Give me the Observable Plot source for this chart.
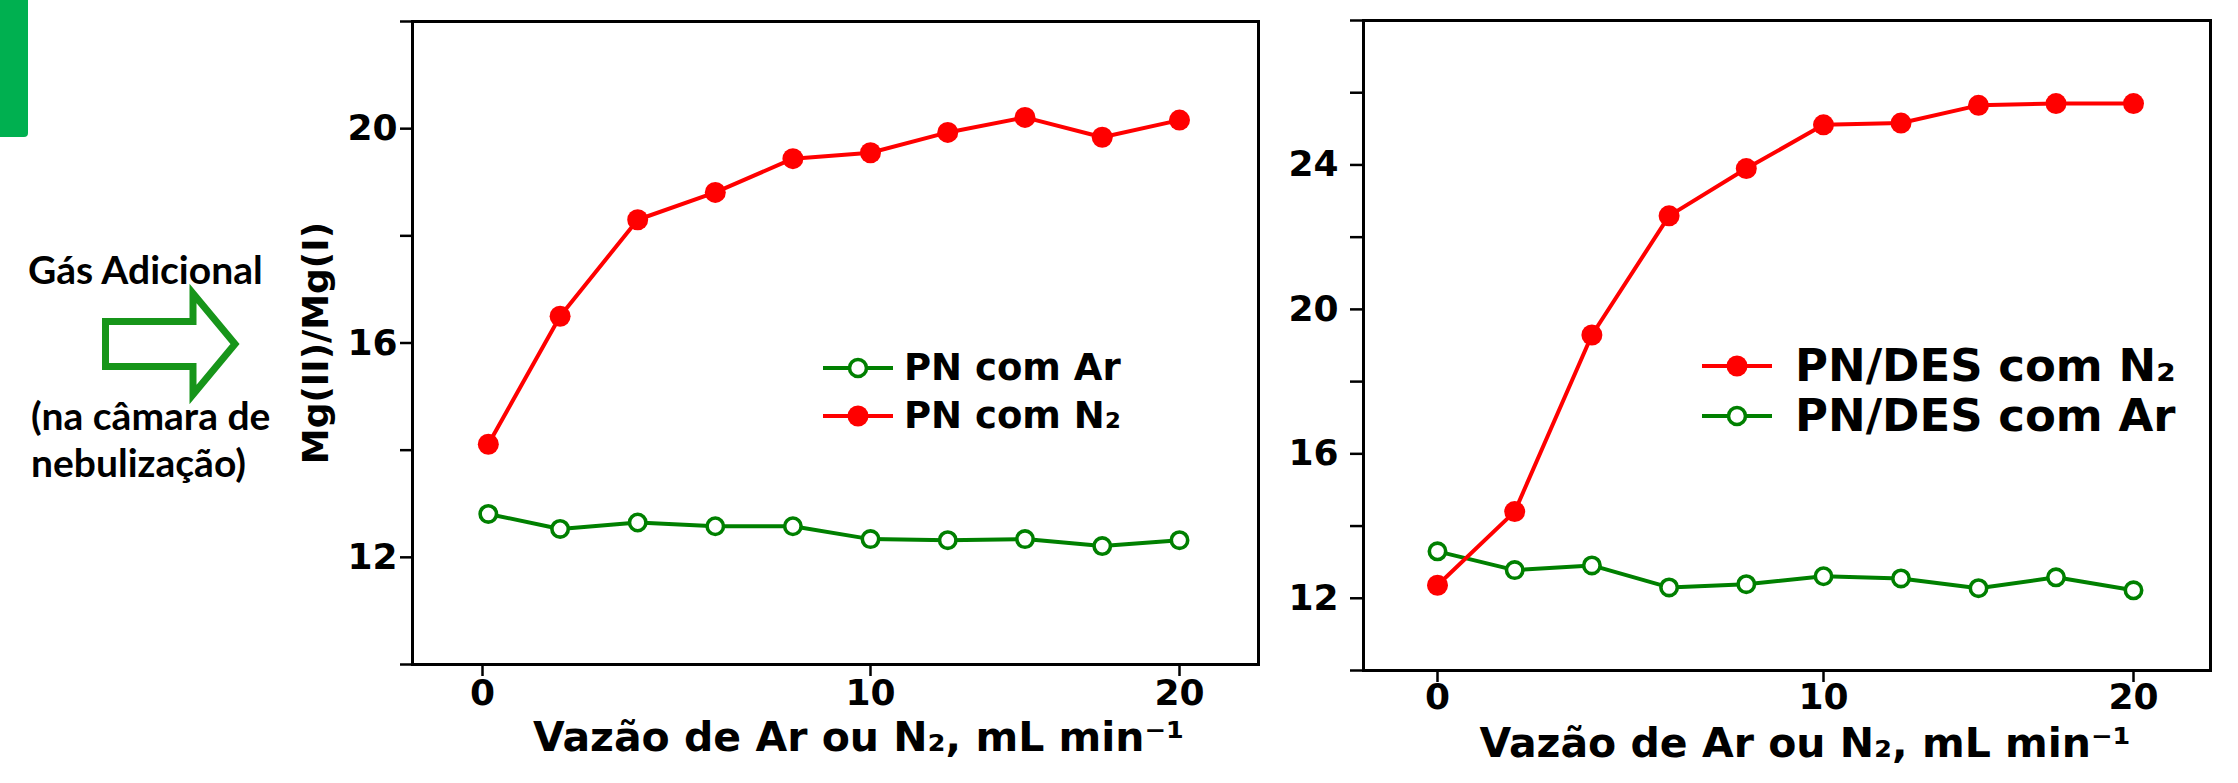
<!DOCTYPE html>
<html><head><meta charset="utf-8">
<script src="https://cdn.jsdelivr.net/npm/d3@7"></script>
<script src="https://cdn.jsdelivr.net/npm/@observablehq/plot@0.6"></script>
<style>
body{margin:0;background:#fff;}
#root{position:relative;width:2238px;height:783px;overflow:hidden;background:#fff;font-family:"DejaVu Sans",sans-serif;font-weight:bold;color:#000;}
.leg{position:absolute;display:flex;align-items:center;white-space:nowrap;}
.leg span{display:block;line-height:1.2;}
</style></head><body><div id="root"></div>
<script>
// ---------- data ----------
const flowLeft  = [0.15, 2, 4, 6, 8, 10, 12.5, 15, 17.5, 20];
const flowRight = [0, 2, 4, 6, 8, 10, 12.5, 15, 17.5, 20];
const pnAr   = [12.81, 12.53, 12.65, 12.58, 12.58, 12.34, 12.32, 12.34, 12.21, 12.32];
const pnN2   = [14.11, 16.50, 18.30, 18.81, 19.44, 19.55, 19.93, 20.21, 19.84, 20.16];
const desN2  = [12.36, 14.40, 19.29, 22.59, 23.90, 25.11, 25.16, 25.65, 25.70, 25.70];
const desAr  = [13.30, 12.78, 12.91, 12.30, 12.39, 12.61, 12.55, 12.28, 12.58, 12.22];
const xTicks = [0, 10, 20];
const leftYTicks = [10, 12, 14, 16, 18, 20, 22];
const leftYLabels = [12, 16, 20];
const rightYTicks = [10, 12, 14, 16, 18, 20, 22, 24, 26, 28];
const rightYLabels = [12, 16, 20, 24];
const xLabel = "Vazão de Ar ou N₂, mL min⁻¹";
const yLabel = "Mg(II)/Mg(I)";
const leftSeries = [
  {name: "PN com Ar", values: pnAr, color: "#008000", filled: false},
  {name: "PN com N₂", values: pnN2, color: "#ff0000", filled: true}
];
const rightSeries = [
  {name: "PN/DES com N₂", values: desN2, color: "#ff0000", filled: true},
  {name: "PN/DES com Ar", values: desAr, color: "#008000", filled: false}
];
const sideNotes = ["Gás Adicional", "(na câmara de", "nebulização)"];

// ---------- layout helpers ----------
const root = document.getElementById("root");
function place(el, left, top) {
  el.style.position = "absolute";
  el.style.left = left + "px";
  el.style.top = top + "px";
  root.appendChild(el);
  return el;
}

function makeChart(cfg) {
  const axisYOpts = {ticks: cfg.yTicks, tickSize: cfg.yTickSize, tickPadding: cfg.yTickPadding,
    tickFormat: d => cfg.yLabels.includes(d) ? String(d) : "", fontSize: 36, strokeWidth: 2.5};
  if (cfg.yLabel) Object.assign(axisYOpts, {label: cfg.yLabel, labelAnchor: "center", labelOffset: cfg.yLabelOffset, labelArrow: "none"});
  else axisYOpts.label = null;
  const marks = [
    Plot.frame({stroke: "#000", strokeWidth: 3}),
    Plot.axisY(axisYOpts),
    Plot.axisX({ticks: xTicks, tickSize: 12, tickPadding: cfg.xTickPadding, tickFormat: d => String(d),
      fontSize: 36, strokeWidth: 2.5, label: null})
  ];
  const order = cfg.series.filter(s => !s.filled).concat(cfg.series.filter(s => s.filled));
  for (const s of order) {
    const rows = s.values.map((v, i) => ({x: cfg.x[i], y: v}));
    marks.push(Plot.line(rows, {x: "x", y: "y", stroke: s.color, strokeWidth: 4}));
    marks.push(Plot.dot(rows, s.filled
      ? {x: "x", y: "y", r: 10.5, fill: s.color, stroke: "none"}
      : {x: "x", y: "y", r: 8.2, fill: "white", stroke: s.color, strokeWidth: 3.6}));
  }
  marks.push(Plot.text([xLabel], {text: d => d, frameAnchor: "bottom", dx: cfg.xLabelDx, dy: cfg.xLabelDy,
    fontSize: 41, fontWeight: "bold", fill: "#000"}));
  return Plot.plot({
    width: cfg.width, height: cfg.height,
    marginTop: cfg.mt, marginBottom: cfg.mb, marginLeft: cfg.ml, marginRight: cfg.mr,
    style: {fontFamily: "DejaVu Sans", fontWeight: "bold", background: "transparent", overflow: "visible", color: "#000"},
    x: {type: "linear", domain: [0, 10, 20], range: cfg.xRange},
    y: {domain: cfg.yDomain},
    marks
  });
}

function makeLegend(series, cfg) {
  series.forEach((s, i) => {
    const div = document.createElement("div");
    div.className = "leg";
    const h = 60;
    const sw = d3.create("svg").attr("width", cfg.swatchW).attr("height", h).style("display", "block");
    sw.append("line").attr("x1", 0).attr("x2", cfg.swatchW).attr("y1", h / 2).attr("y2", h / 2)
      .attr("stroke", s.color).attr("stroke-width", 4);
    if (s.filled) sw.append("circle").attr("cx", cfg.swatchW / 2).attr("cy", h / 2).attr("r", 10.5).attr("fill", s.color);
    else sw.append("circle").attr("cx", cfg.swatchW / 2).attr("cy", h / 2).attr("r", 8.5).attr("fill", "white")
      .attr("stroke", s.color).attr("stroke-width", 3.6);
    div.appendChild(sw.node());
    const t = document.createElement("span");
    t.textContent = s.name;
    t.style.fontSize = cfg.fontSize + "px";
    t.style.marginLeft = cfg.gap + "px";
    div.appendChild(t);
    place(div, cfg.left, cfg.centers[i] - h / 2);
  });
}

// ---------- side note ----------
const bar = document.createElement("div");
bar.style.cssText = "width:28px;height:137px;background:#00b050;border-bottom-right-radius:4px;";
place(bar, 0, 0);

const note = d3.create("svg").attr("width", 300).attr("height", 520)
  .style("font-family", "Lato, 'Open Sans', sans-serif").style("font-weight", "bold");
const baselines = [284, 430, 477];
const starts = [28, 31, 31];
sideNotes.forEach((s, i) => {
  note.append("text").attr("x", starts[i]).attr("y", baselines[i]).attr("font-size", 39).attr("fill", "#000").text(s);
});
note.append("path")
  .attr("d", "M105.5,321.5 L193,321.5 L193,293.5 L235,344 L193,394.5 L193,366.5 L105.5,366.5 Z")
  .attr("fill", "white").attr("stroke", "#17951a").attr("stroke-width", 7).attr("stroke-linejoin", "miter");
place(note.node(), 0, 0);

// ---------- charts ----------
place(makeChart({
  series: leftSeries, x: flowLeft,
  width: 1000, height: 783, mt: 21, mb: 119, ml: 122, mr: 32,
  xRange: [192, 580, 889], yDomain: [10, 22], yTicks: leftYTicks, yLabels: leftYLabels,
  yTickSize: 12, yTickPadding: 3, xTickPadding: 3,
  xLabelDx: 23, xLabelDy: 86, yLabel: yLabel, yLabelOffset: 110
}), 290, 0);

place(makeChart({
  series: rightSeries, x: flowRight,
  width: 968, height: 783, mt: 20, mb: 113, ml: 93, mr: 28,
  xRange: [167, 553, 863], yDomain: [10, 28], yTicks: rightYTicks, yLabels: rightYLabels,
  yTickSize: 13, yTickPadding: 12, xTickPadding: 1,
  xLabelDx: 18, xLabelDy: 86
}), 1270, 0);

makeLegend(leftSeries, {left: 823, centers: [368, 416], swatchW: 70, gap: 11, fontSize: 37});
makeLegend(rightSeries, {left: 1702, centers: [366, 416], swatchW: 70, gap: 23, fontSize: 45});
</script></body></html>
